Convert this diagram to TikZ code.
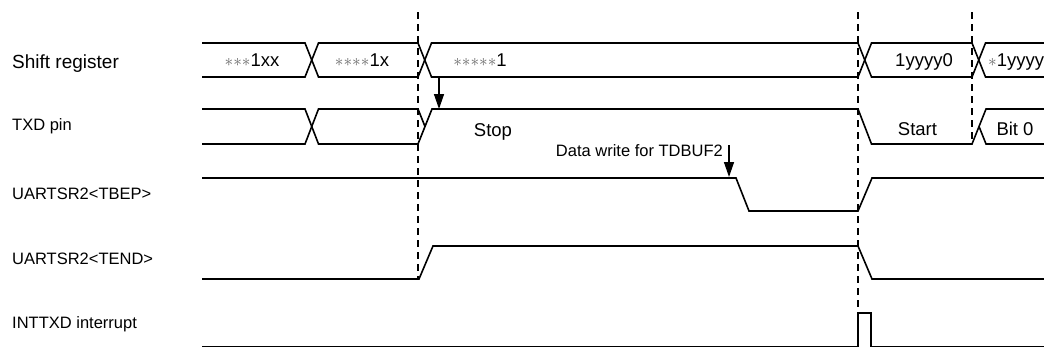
\documentclass[tikz,border=0pt]{standalone}
\usepackage{fontspec}
\setmainfont{Liberation Sans}
\usetikzlibrary{arrows.meta}
\newcommand{\srast}{\textcolor{black!60}{$\ast$}}
\tikzset{
  wave/.style={line width=1.6pt},
  guide/.style={line width=1.4pt,dash pattern=on 7pt off 5pt},
  siglabel/.style={anchor=base west,inner sep=0pt,font=\fontsize{16.5}{18}\selectfont},
  bustext/.style={anchor=base,inner sep=0pt,font=\fontsize{18.5}{20}\selectfont},
  writearrow/.style={line width=1.4pt,-{Triangle[length=15pt,width=10pt]}}
}

\begin{document}
\begin{tikzpicture}[x=1pt,y=-1pt]
  \clip (0,0) rectangle (1044,348);
  \node[siglabel,font=\fontsize{19}{21}\selectfont] (lblsr) at (12,68.5) {Shift register};
  \node[siglabel] (lbltxd) at (12,130.5) {TXD pin};
  \node[siglabel] (lbltbep) at (12,199) {UARTSR2<TBEP>};
  \node[siglabel] (lbltend) at (12,264) {UARTSR2<TEND>};
  \node[siglabel] (lblint) at (12,328.5) {INTTXD interrupt};

  \draw[guide] (418,12) -- (418,279);
  \draw[guide] (858,12) -- (858,313);
  \draw[guide] (972,12) -- (972,144);

  \draw[wave] (202,43) -- (305,43) -- (318.5,77) -- (418,77) -- (431.5,43) -- (858,43) -- (871.5,77) -- (972,77) -- (985.5,43) -- (1044,43);
  \draw[wave] (202,77) -- (305,77) -- (318.5,43) -- (418,43) -- (431.5,77) -- (858,77) -- (871.5,43) -- (972,43) -- (985.5,77) -- (1044,77);
  \node[bustext] (sr1) at (252,66.5) {\srast\srast\srast1xx};
  \node[bustext] (sr2) at (362,66.5) {\srast\srast\srast\srast1x};
  \node[bustext] (sr3) at (480,66.5) {\srast\srast\srast\srast\srast1};
  \node[bustext] (sr4) at (924,66.5) {1yyyy0};
  \node[bustext,anchor=base west] (sr5) at (988,66.5) {\srast1yyyy};

  \draw[wave] (202,109) -- (305,109) -- (318.5,144) -- (418,144) -- (432,109) -- (858,109) -- (871.5,144) -- (972,144) -- (986,109) -- (1044,109);
  \draw[wave] (202,144) -- (305,144) -- (318.5,109) -- (418,109) -- (425,126.5);
  \draw[wave] (979,126.5) -- (986,144) -- (1044,144);
  \node[bustext] (stopbit) at (493,136) {Stop};
  \node[bustext] (startbit) at (917.5,135) {Start};
  \node[bustext] (bitzero) at (1015,135) {Bit 0};

  \draw[wave] (202,178) -- (736,178) -- (749,211) -- (858,211) -- (872,178) -- (1044,178);
  \draw[wave] (202,279) -- (419,279) -- (433,246) -- (858,246) -- (872,279) -- (1044,279);
  \draw[wave] (202,346.5) -- (858,346.5) -- (858,313) -- (871,313) -- (871,346.5) -- (1044,346.5);

  \node[siglabel,anchor=base east] (tdbuf) at (723,156.5) {Data write for TDBUF2};
  \coordinate (shiftout) at (439,77);
  \coordinate (stopin) at (439,109);
  \coordinate (wrtop) at (729,145);
  \coordinate (wrbot) at (729,177);
  \draw[writearrow] (shiftout) -- (stopin);
  \draw[writearrow] (wrtop) -- (wrbot);
\end{tikzpicture}
\end{document}
